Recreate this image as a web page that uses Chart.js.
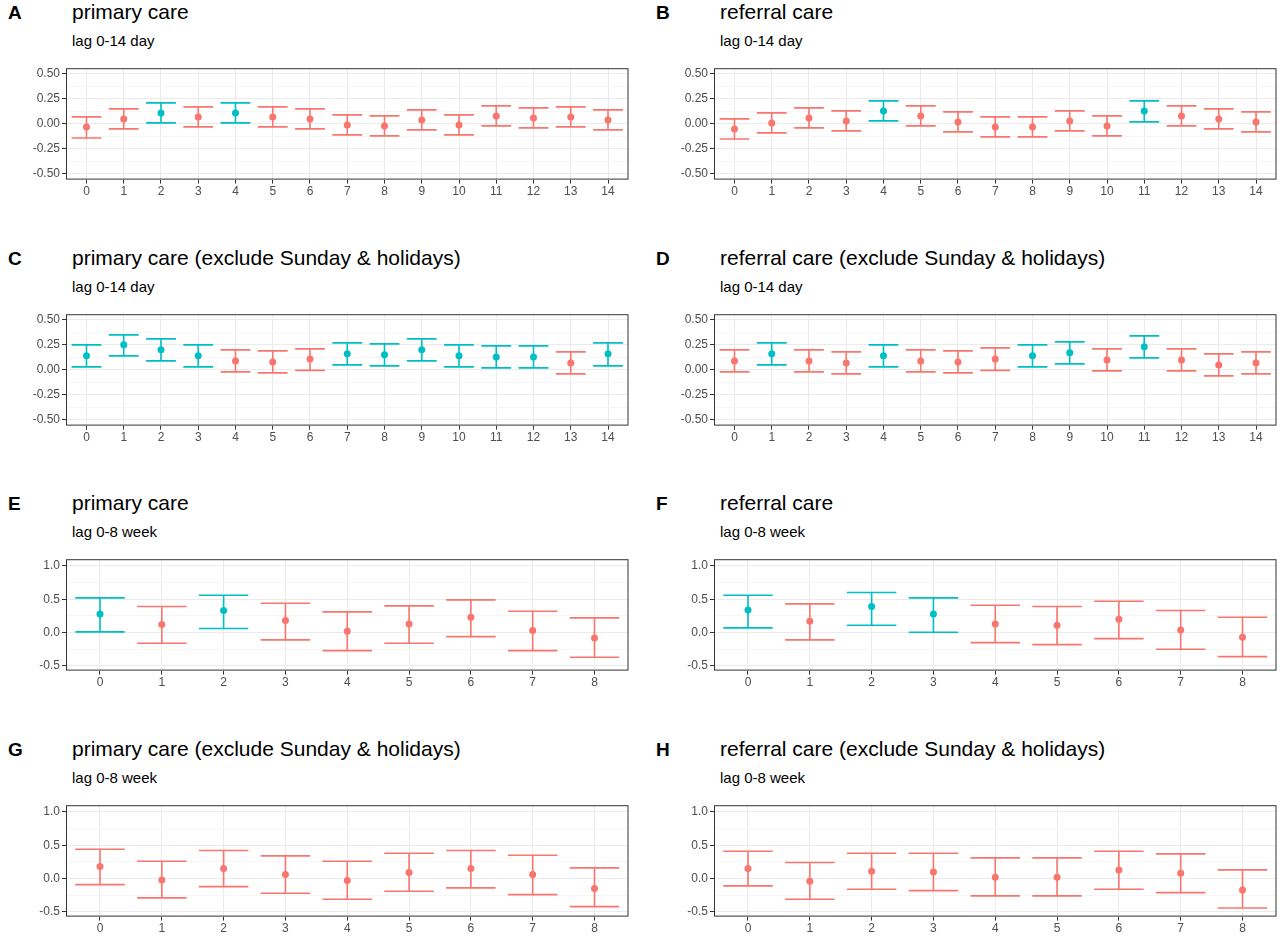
<!DOCTYPE html>
<html>
<head>
<meta charset="utf-8">
<script src="https://cdn.jsdelivr.net/npm/chart.js@4/dist/chart.umd.min.js"></script>
<style>
  body { margin: 0; background: #fff; font-family: "Liberation Sans", Arial, sans-serif; }
  .panel { position: absolute; width: 640px; height: 246px; }
  .tag { position: absolute; left: 8px; top: 2px; font-size: 19px; font-weight: bold; color: #000; }
  .ttl { position: absolute; left: 72px; top: 0px; font-size: 21px; color: #000; }
  .sub { position: absolute; left: 72px; top: 32px; font-size: 15px; color: #000; }
  .cv { position: absolute; left: 26px; top: 59px; width: 606px; height: 141px; }
</style>
</head>
<body>
<script>
// lag categories
var daysLag = [0,1,2,3,4,5,6,7,8,9,10,11,12,13,14];
var weeksLag = [0,1,2,3,4,5,6,7,8];

// A: primary care, lag 0-14 day
var aEst = [-0.03,0.05,0.11,0.07,0.11,0.07,0.05,-0.01,-0.02,0.04,-0.01,0.08,0.06,0.07,0.04];
var aLo  = [-0.14,-0.05,0.01,-0.03,0.01,-0.03,-0.05,-0.11,-0.12,-0.06,-0.11,-0.02,-0.04,-0.03,-0.06];
var aHi  = [0.07,0.15,0.21,0.17,0.21,0.17,0.15,0.09,0.08,0.14,0.09,0.18,0.16,0.17,0.14];
// B: referral care, lag 0-14 day
var bEst = [-0.05,0.01,0.06,0.03,0.13,0.08,0.02,-0.03,-0.03,0.03,-0.02,0.13,0.08,0.05,0.02];
var bLo  = [-0.15,-0.09,-0.04,-0.07,0.03,-0.02,-0.08,-0.13,-0.13,-0.07,-0.12,0.02,-0.02,-0.05,-0.08];
var bHi  = [0.05,0.11,0.16,0.13,0.23,0.18,0.12,0.07,0.07,0.13,0.08,0.23,0.18,0.15,0.12];
// C: primary care excl. Sunday & holidays, lag 0-14 day
var cEst = [0.14,0.25,0.20,0.14,0.09,0.08,0.11,0.16,0.15,0.20,0.14,0.13,0.13,0.07,0.16];
var cLo  = [0.03,0.14,0.09,0.03,-0.02,-0.03,-0.005,0.05,0.04,0.09,0.03,0.02,0.02,-0.04,0.04];
var cHi  = [0.25,0.35,0.31,0.25,0.20,0.19,0.21,0.27,0.26,0.31,0.25,0.24,0.24,0.18,0.27];
// D: referral care excl. Sunday & holidays, lag 0-14 day
var dEst = [0.09,0.16,0.09,0.07,0.14,0.09,0.08,0.11,0.14,0.17,0.10,0.23,0.10,0.05,0.07];
var dLo  = [-0.02,0.05,-0.02,-0.04,0.03,-0.02,-0.03,-0.005,0.03,0.06,-0.01,0.12,-0.01,-0.06,-0.04];
var dHi  = [0.20,0.27,0.20,0.18,0.25,0.20,0.19,0.22,0.25,0.28,0.21,0.34,0.21,0.16,0.18];
// E: primary care, lag 0-8 week
var eEst = [0.28,0.12,0.33,0.18,0.02,0.13,0.23,0.03,-0.08];
var eLo  = [0.01,-0.16,0.06,-0.11,-0.27,-0.16,-0.06,-0.27,-0.37];
var eHi  = [0.52,0.39,0.56,0.44,0.31,0.40,0.49,0.32,0.22];
// F: referral care, lag 0-8 week
var fEst = [0.34,0.17,0.39,0.28,0.13,0.11,0.20,0.04,-0.07];
var fLo  = [0.07,-0.11,0.11,0.005,-0.15,-0.18,-0.09,-0.25,-0.36];
var fHi  = [0.56,0.43,0.60,0.52,0.41,0.39,0.47,0.33,0.23];
// G: primary care excl. Sunday & holidays, lag 0-8 week
var gEst = [0.18,-0.02,0.15,0.06,-0.03,0.09,0.15,0.06,-0.15];
var gLo  = [-0.09,-0.29,-0.12,-0.22,-0.31,-0.19,-0.14,-0.24,-0.42];
var gHi  = [0.44,0.26,0.42,0.34,0.26,0.38,0.42,0.35,0.16];
// H: referral care excl. Sunday & holidays, lag 0-8 week
var hEst = [0.15,-0.04,0.11,0.10,0.02,0.02,0.13,0.08,-0.17];
var hLo  = [-0.11,-0.31,-0.16,-0.18,-0.26,-0.26,-0.16,-0.21,-0.44];
var hHi  = [0.41,0.24,0.38,0.38,0.31,0.31,0.41,0.37,0.13];

var dayTicks = [-0.5,-0.25,0,0.25,0.5];
var weekTicks = [-0.5,0,0.5,1.0];

var panels = [
  {tag:'A', title:'primary care', sub:'lag 0-14 day', x:daysLag, est:aEst, lo:aLo, hi:aHi, left:0, top:0},
  {tag:'B', title:'referral care', sub:'lag 0-14 day', x:daysLag, est:bEst, lo:bLo, hi:bHi, left:648, top:0},
  {tag:'C', title:'primary care (exclude Sunday & holidays)', sub:'lag 0-14 day', x:daysLag, est:cEst, lo:cLo, hi:cHi, left:0, top:246},
  {tag:'D', title:'referral care (exclude Sunday & holidays)', sub:'lag 0-14 day', x:daysLag, est:dEst, lo:dLo, hi:dHi, left:648, top:246},
  {tag:'E', title:'primary care', sub:'lag 0-8 week', x:weeksLag, est:eEst, lo:eLo, hi:eHi, left:0, top:491},
  {tag:'F', title:'referral care', sub:'lag 0-8 week', x:weeksLag, est:fEst, lo:fLo, hi:fHi, left:648, top:491},
  {tag:'G', title:'primary care (exclude Sunday & holidays)', sub:'lag 0-8 week', x:weeksLag, est:gEst, lo:gLo, hi:gHi, left:0, top:737},
  {tag:'H', title:'referral care (exclude Sunday & holidays)', sub:'lag 0-8 week', x:weeksLag, est:hEst, lo:hLo, hi:hHi, left:648, top:737}
];

var RED = '#F8766D', TEAL = '#00BFC4';

var errorBars = {
  id: 'errorBars',
  afterDatasetsDraw: function(chart) {
    var p = chart.options.plugins.errorBars;
    var xs = chart.scales.x, ys = chart.scales.y, ctx = chart.ctx;
    ctx.save();
    ctx.lineWidth = 1.6;
    for (var i = 0; i < p.x.length; i++) {
      var x = xs.getPixelForValue(p.x[i]);
      var half = (xs.getPixelForValue(0.4) - xs.getPixelForValue(0));
      var yl = ys.getPixelForValue(p.lo[i]), yh = ys.getPixelForValue(p.hi[i]);
      ctx.strokeStyle = p.lo[i] > 0 ? TEAL : RED;
      ctx.beginPath();
      ctx.moveTo(x, yl); ctx.lineTo(x, yh);
      ctx.moveTo(x - half, yl); ctx.lineTo(x + half, yl);
      ctx.moveTo(x - half, yh); ctx.lineTo(x + half, yh);
      ctx.stroke();
    }
    var a = chart.chartArea;
    ctx.strokeStyle = '#333333';
    ctx.lineWidth = 1;
    ctx.strokeRect(a.left + 0.5, a.top + 0.5, a.right - a.left - 1, a.bottom - a.top - 1);
    ctx.restore();
  }
};

panels.forEach(function(p, k) {
  var div = document.createElement('div');
  div.className = 'panel';
  div.style.left = p.left + 'px';
  div.style.top = p.top + 'px';
  div.innerHTML = '<div class="tag">' + p.tag + '</div><div class="ttl"></div><div class="sub"></div>' +
    '<div class="cv"><canvas id="c' + k + '"></canvas></div>';
  div.querySelector('.ttl').textContent = p.title;
  div.querySelector('.sub').textContent = p.sub;
  document.body.appendChild(div);

  var weekly = p.x.length < 10;
  var major = weekly ? weekTicks : dayTicks;
  var minorStep = weekly ? 0.25 : 0.125;
  var ymin = weekly ? -0.57 : -0.556, ymax = weekly ? 1.1 : 0.556;
  var pts = p.x.map(function(v, i) { return {x: v, y: p.est[i]}; });
  var cols = p.lo.map(function(v) { return v > 0 ? TEAL : RED; });

  new Chart(document.getElementById('c' + k), {
    type: 'scatter',
    data: { datasets: [{ data: pts, pointRadius: 3.5, pointHoverRadius: 3.5,
      backgroundColor: cols, borderColor: cols, borderWidth: 0 }] },
    plugins: [errorBars],
    options: {
      responsive: true, maintainAspectRatio: false, animation: false,
      layout: { padding: { top: 2, right: 2, bottom: 0, left: 0 } },
      plugins: { legend: {display: false}, tooltip: {enabled: false},
        errorBars: { x: p.x, lo: p.lo, hi: p.hi } },
      scales: {
        x: {
          min: -0.55, max: p.x.length - 0.45,
          afterBuildTicks: function(s) { s.ticks = p.x.map(function(v) { return {value: v}; }); },
          ticks: { color: '#4d4d4d', font: {size: 12, family: 'Liberation Sans'}, padding: 1,
            callback: function(v) { return String(v); } },
          grid: { color: '#ebebeb', tickLength: 4, tickColor: '#333' },
          border: { display: false }
        },
        y: {
          min: ymin, max: ymax,
          afterFit: function(s) { s.width = 40; },
          afterBuildTicks: function(s) {
            var t = [];
            for (var v = -0.5; v <= ymax + 1e-9; v += minorStep) t.push({value: Math.round(v * 1000) / 1000});
            s.ticks = t;
          },
          ticks: { color: '#4d4d4d', font: {size: 12, family: 'Liberation Sans'}, padding: 2, autoSkip: false,
            callback: function(v) {
              var isMajor = major.some(function(m) { return Math.abs(m - v) < 1e-6; });
              if (!isMajor) return '';
              return weekly ? v.toFixed(1) : v.toFixed(2);
            } },
          grid: {
            color: function(c) {
              var v = c.tick ? c.tick.value : 0;
              return major.some(function(m) { return Math.abs(m - v) < 1e-6; }) ? '#ebebeb' : '#f6f6f6';
            },
            tickLength: 4, tickColor: function(c) {
              var v = c.tick ? c.tick.value : 0;
              return major.some(function(m) { return Math.abs(m - v) < 1e-6; }) ? '#333' : 'rgba(0,0,0,0)';
            }
          },
          border: { display: false }
        }
      }
    }
  });
});
</script>
</body>
</html>
